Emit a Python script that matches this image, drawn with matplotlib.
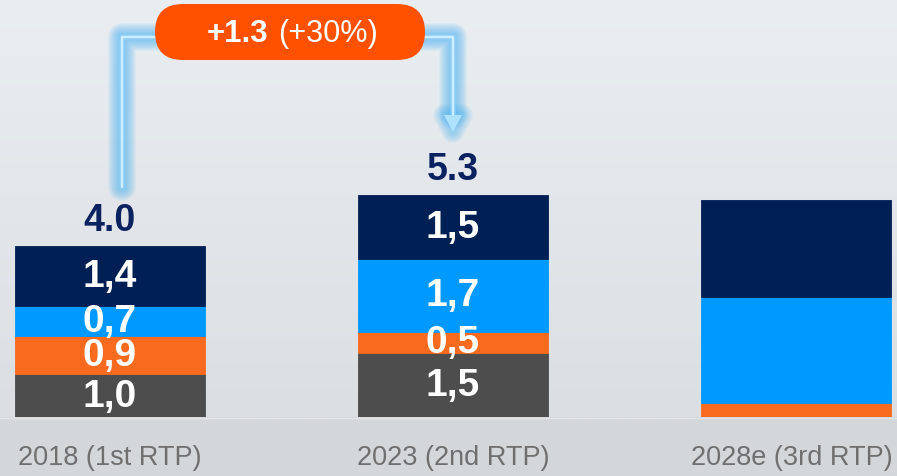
import numpy as np
import matplotlib.pyplot as plt
from matplotlib.patches import FancyBboxPatch, Polygon, Rectangle

# data
categories = ['2018 (1st RTP)', '2023 (2nd RTP)', '2028e (3rd RTP)']
grey_vals = [1.0, 1.5, 0.0]
orange_vals = [0.9, 0.5, 0.33]
blue_vals = [0.7, 1.7, 2.47]
navy_vals = [1.4, 1.5, 2.28]
seg_labels = [['1,0', '0,9', '0,7', '1,4'],
              ['1,5', '0,5', '1,7', '1,5'],
              None]
totals = ['4.0', '5.3', None]
delta_bold = '+1.3'
delta_pct = '(+30%)'

colors = ['#4d4d4d', '#f86a1e', '#0099ff', '#001f55']
navy_txt = '#0b2260'
font = 'Liberation Sans'

W, H = 897, 477
base_px = 418          # baseline of the bars in pixels from top
px_per_unit = 42.7
fig = plt.figure(figsize=(W / 100, H / 100), dpi=100)

# background + decorations in pixel coordinates
bg = fig.add_axes([0, 0, 1, 1])
grad = np.linspace(0, 1, 256)[:, None, None]
top = np.array([0xe9, 0xee, 0xf2]) / 255
bot = np.array([0xdc, 0xdf, 0xe2]) / 255
img = top + (bot - top) * grad
bg.imshow(img, extent=[0, W, base_px, 0], aspect='auto', zorder=0)
bg.add_patch(Rectangle((0, base_px), W, H - base_px, color='#d4d7da', zorder=1))
bg.plot([0, W], [base_px + 1, base_px + 1], color='#e2e4e6', lw=1, zorder=2)

# glowing arrow (soft glow made of stacked translucent strokes)
path_x = [122, 122, 453, 453]
path_y = [188, 38, 38, 116]
for lw in np.linspace(28, 6, 12):
    bg.plot(path_x, path_y, color='#4ab3f8', lw=lw * 0.72, alpha=0.07,
            solid_capstyle='round', solid_joinstyle='round', zorder=3)
bg.plot(path_x, path_y, color='#8fd2fd', lw=6 * 0.72, alpha=0.5,
        solid_capstyle='round', solid_joinstyle='round', zorder=4)
bg.plot(path_x, path_y, color='#cdeeff', lw=2.5 * 0.72,
        solid_capstyle='round', solid_joinstyle='round', zorder=4)
head = [(444, 116), (462, 116), (453, 133)]
for lw in np.linspace(22, 4, 8):
    bg.add_patch(Polygon(head, closed=True, facecolor='none', edgecolor='#4ab3f8',
                         lw=lw * 0.72, alpha=0.08, joinstyle='round', zorder=3))
bg.add_patch(Polygon(head, closed=True, facecolor='#aee3ff', edgecolor='none', zorder=4))

# pill
pill = FancyBboxPatch((155 + 28, 5 + 28), 270 - 56, 0,
                      boxstyle='round,pad=28,rounding_size=28',
                      facecolor='#ff5100', edgecolor='none', zorder=5)
bg.add_patch(pill)
bg.text(268, 42, delta_bold, ha='right', va='baseline', color='white',
        fontsize=22.5, fontweight='bold', family=font, zorder=6)
bg.text(278, 42, delta_pct, ha='left', va='baseline', color='white',
        fontsize=22, family=font, zorder=6)

bg.set_xlim(0, W)
bg.set_ylim(H, 0)
bg.axis('off')

# bars
ax = fig.add_axes([0, (H - base_px) / H, 1, base_px / H])
ax.set_facecolor('none')
x = np.arange(len(categories))
width = 190 / 343
series = [grey_vals, orange_vals, blue_vals, navy_vals]
bottom = np.zeros(len(categories))
for k, vals in enumerate(series):
    vals = np.array(vals)
    ax.bar(x, vals, width, bottom=bottom, color=colors[k], edgecolor=colors[k], lw=0.6)
    for i in range(len(categories)):
        if seg_labels[i] is not None:
            ax.text(x[i], bottom[i] + vals[i] / 2, seg_labels[i][k], ha='center',
                    va='center', color='white', fontsize=28, fontweight='bold', family=font)
    bottom = bottom + vals

label_shift = [0, 0, -3]
for i in range(len(categories)):
    if totals[i] is not None:
        ax.annotate(totals[i], (x[i], bottom[i]), xytext=(0, 19), textcoords='offset points',
                    ha='center', va='center', color=navy_txt, fontsize=27,
                    fontweight='bold', family=font)
    ax.annotate(categories[i], (x[i], 0), xytext=(label_shift[i], -29),
                textcoords='offset points', ha='center', va='center',
                color='#6f6f6f', fontsize=19.5, family=font, annotation_clip=False)

ax.set_xlim(-110 / 343, (W - 110) / 343)
ax.set_ylim(0, base_px / px_per_unit)
ax.axis('off')

fig.savefig('out.png', dpi=100)
